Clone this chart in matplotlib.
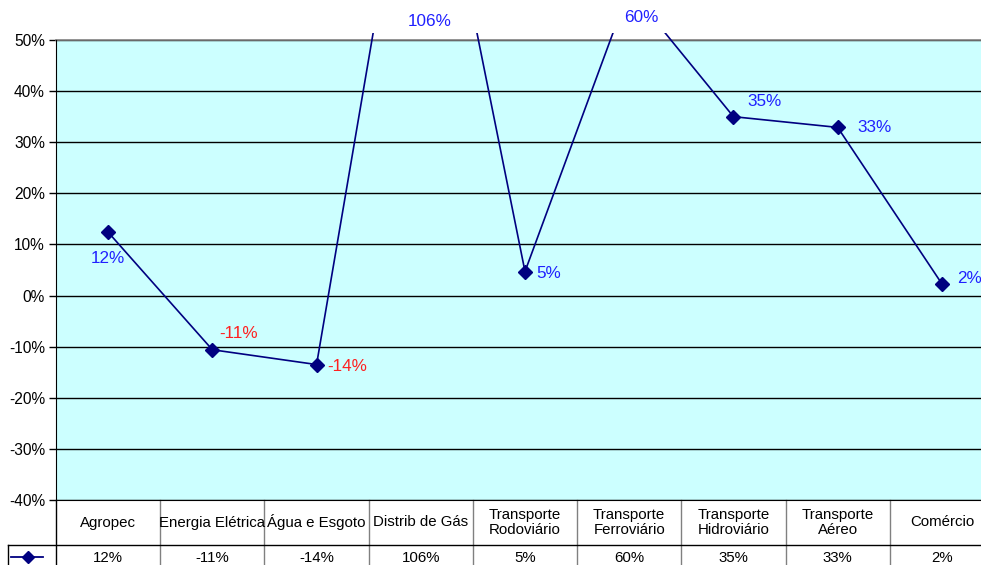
import matplotlib
matplotlib.use("Agg")
import matplotlib.pyplot as plt
from matplotlib.patches import Rectangle
from matplotlib.lines import Line2D

plt.rcParams['font.family'] = ['Liberation Sans', 'DejaVu Sans']

categories = ["Agropec", "Energia Elétrica", "Água e Esgoto", "Distrib de Gás",
              "Transporte\nRodoviário", "Transporte\nFerroviário", "Transporte\nHidroviário",
              "Transporte\nAéreo", "Comércio"]
values = [12.4, -10.6, -13.5, 106.0, 4.7, 60.0, 35.0, 32.9, 2.3]
value_labels = ["12%", "-11%", "-14%", "106%", "5%", "60%", "35%", "33%", "2%"]
yticks = [-40, -30, -20, -10, 0, 10, 20, 30, 40, 50]

W, H = 981, 565
fig = plt.figure(figsize=(W / 100, H / 100), dpi=100)
L, R, T, B = 56, 994, 40, 500
ax = fig.add_axes([L / W, 1 - B / H, (R - L) / W, (B - T) / H])
ax.set_facecolor('#CCFFFF')
ax.set_xlim(-0.5, len(categories) - 0.5)
ax.set_ylim(-40, 50)
ax.set_yticks(yticks)
ax.set_yticklabels([f"{t}%" for t in yticks], fontsize=11.2)
ax.yaxis.grid(True, color='black', linewidth=1)
ax.set_axisbelow(True)
ax.set_xticks([])
ax.tick_params(axis='y', length=5, width=1, color='black', pad=3)
for s in ['top', 'right']:
    ax.spines[s].set_visible(False)
ax.spines['left'].set_color('black')
ax.spines['bottom'].set_color('black')
ax.plot([-0.5, len(categories) - 0.5], [50, 50], color='#808080', lw=1.2, clip_on=False)

xs = list(range(len(categories)))
line, = ax.plot(xs, values, color='#000080', lw=1.2, marker='D', markersize=7,
                markerfacecolor='#000080', markeredgecolor='#000080', clip_on=False, zorder=5)
clip = Rectangle((0, 0), 1, 1 - 33 / H, transform=fig.transFigure, facecolor='none')
line.set_clip_path(clip)
line.set_clip_on(True)

offsets = {0: (0, -26), 1: (26, 16), 2: (31, -2), 4: (24, -2), 6: (31, 15), 7: (37, 0), 8: (28, 5)}
for i, (v, lab) in enumerate(zip(values, value_labels)):
    col = '#FF2020' if v < 0 else '#2020FF'
    if i in offsets:
        ax.annotate(lab, (i, v), xytext=offsets[i], textcoords='offset pixels',
                    ha='center', va='center', color=col, fontsize=12.3, annotation_clip=False)

# labels of off-scale points, placed at the top of the chart
top_labels = {3: (0.09, 22), 5: (0.12, 18)}
tr = matplotlib.transforms.blended_transform_factory(ax.transData, fig.transFigure)
for i, (dx, ypx) in top_labels.items():
    fig.text(i + dx, 1 - ypx / H, value_labels[i], transform=tr, ha='center', va='center',
             color='#2020FF', fontsize=12.3)

# data table
xt = ax.get_xaxis_transform()
row1 = 45 / (B - T)
rowbot = -100 / (B - T)
n = len(categories)
for k in range(1, n):
    ax.plot([k - 0.5, k - 0.5], [0, rowbot], transform=xt, color='#808080', lw=1, clip_on=False)
ax.plot([-0.5, -0.5], [0, rowbot], transform=xt, color='black', lw=1, clip_on=False)
fig.add_artist(Line2D([8 / W, 1], [1 - 545 / H, 1 - 545 / H], transform=fig.transFigure,
                      color='black', lw=1))
fig.add_artist(Line2D([8 / W, 8 / W], [1 - 545 / H, 0], transform=fig.transFigure,
                      color='black', lw=1))
for i, c in enumerate(categories):
    ax.text(i, -row1 / 2, c, transform=xt, ha='center', va='center', fontsize=10.8,
            linespacing=1.0, clip_on=False)
    ax.text(i, -(row1 + 13 / (B - T)), value_labels[i], transform=xt, ha='center',
            va='center', fontsize=10.8, clip_on=False)
# legend key
fig.add_artist(Line2D([11 / W, 43 / W], [1 - 557 / H, 1 - 557 / H], transform=fig.transFigure,
                      color='#000080', lw=1.3))
fig.add_artist(Line2D([27.5 / W], [1 - 557 / H], transform=fig.transFigure,
                      color='#000080', marker='D', markersize=6, lw=0))

fig.savefig('out.png', dpi=100)
